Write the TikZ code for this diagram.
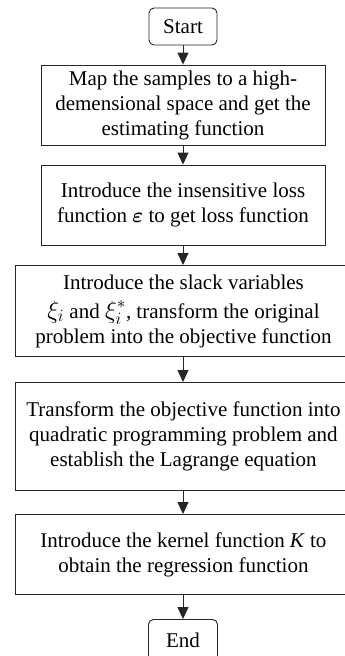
\documentclass[tikz,border=0pt]{standalone}
\usepackage{amsmath,bm}
\usepackage{fontspec}
\setmainfont{Liberation Serif}
\usetikzlibrary{arrows.meta}
\begin{document}
\begin{tikzpicture}[x=1pt,y=-1pt,
  box/.style={draw=black!85, line width=0.9pt, align=center, inner sep=0pt,
    font=\fontsize{21}{25}\selectfont},
  term/.style={box, rounded corners=5pt},
  arr/.style={-{Triangle[length=12pt,width=11pt]}, line width=0.9pt, draw=black!85}]
\useasboundingbox (0,0) rectangle (345,656);
\clip (0,0) rectangle (345,656);
\node[term, minimum width=68pt, minimum height=37pt] (start) at (183,26.5) {Start};
\node[box, minimum width=284pt, minimum height=80pt] (b1) at (183,105)
  {Map the samples to a high-\\demensional space and get the\\estimating function};
\node[box, minimum width=284pt, minimum height=80pt] (b2) at (183,205)
  {Introduce the insensitive loss\\function $\bm{\varepsilon}$ to get loss function};
\node[box, minimum width=336pt, minimum height=91pt, anchor=north west] (b3) at (15,265)
  {Introduce the slack variables\\[4pt]{\fontsize{23}{25}\selectfont$\xi_i$} and {\fontsize{23}{25}\selectfont$\xi_i^{*}$}, transform the original\\problem into the objective function};
\node[box, minimum width=336pt, minimum height=108pt, anchor=north west] (b4) at (15,382)
  {Transform the objective function into\\quadratic programming problem and\\establish the Lagrange equation};
\node[box, minimum width=336pt, minimum height=80pt, anchor=north west] (b5) at (15,514)
  {Introduce the kernel function \textit{K} to\\obtain the regression function};
\node[term, minimum width=69pt, minimum height=42pt, anchor=north] (end) at (183,619) {End};
\draw[arr] (start.south) -- (b1.north);
\draw[arr] (b1.south) -- (b2.north);
\draw[arr] (b2.south) -- (b3.north -| start);
\draw[arr] (b3.south -| start) -- (b4.north -| start);
\draw[arr] (b4.south -| start) -- (b5.north -| start);
\draw[arr] (b5.south -| start) -- (end.north);
\end{tikzpicture}
\end{document}
